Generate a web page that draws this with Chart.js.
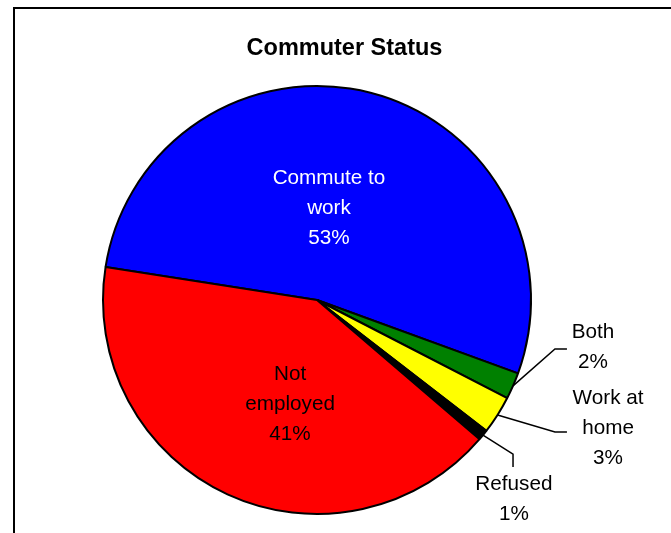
<!DOCTYPE html>
<html>
<head>
<meta charset="utf-8">
<script src="https://cdn.jsdelivr.net/npm/chart.js@4/dist/chart.umd.min.js"></script>
<style>
  html, body { margin: 0; padding: 0; background: #fff; }
  #wrap { position: relative; width: 671px; height: 533px; }
</style>
</head>
<body>
<div id="wrap"><canvas id="c" width="671" height="533"></canvas></div>
<script>
// ---- data ----
const chartTitle = "Commuter Status";
const categories = ["Commute to work", "Both", "Work at home", "Refused", "Not employed"];
const labelLines = [["Commute to", "work"], ["Both"], ["Work at", "home"], ["Refused"], ["Not", "employed"]];
const values = [53.1, 2.0, 2.9, 0.8, 41.2];

// ---- styles / layout (kept apart from data) ----
const sliceColors = ["#0000FF", "#008000", "#FFFF00", "#000000", "#FF0000"];
const textColors = ["#FFFFFF", "#000000", "#000000", "#000000", "#000000"];
// label centre (in units of radius, relative to pie centre), leader elbow & end (or null)
const labelLayout = [
  { lx: 0.056, ly: -0.43, leader: null },
  { lx: 1.29, ly: 0.22, leader: [[1.112, 0.229], [1.168, 0.229]] },
  { lx: 1.36, ly: 0.60, leader: [[1.112, 0.617], [1.168, 0.617]] },
  { lx: 0.92, ly: 0.93, leader: [[0.916, 0.72], [0.916, 0.78]] },
  { lx: -0.126, ly: 0.486, leader: null }
];
const FONT = '"Liberation Sans", Arial, sans-serif';
const LINE_H = 30;

const total = values.reduce((a, b) => a + b, 0);

const overlay = {
  id: 'overlay',
  afterDraw(chart) {
    const ctx = chart.ctx;
    ctx.save();
    // frame
    ctx.strokeStyle = '#000';
    ctx.lineWidth = 2;
    ctx.beginPath();
    ctx.moveTo(14, 533);
    ctx.lineTo(14, 8);
    ctx.lineTo(671, 8);
    ctx.stroke();
    // title
    ctx.fillStyle = '#000';
    ctx.font = 'bold 23.5px ' + FONT;
    ctx.textAlign = 'center';
    ctx.textBaseline = 'middle';
    ctx.fillText(chartTitle, 344.5, 49);

    const meta = chart.getDatasetMeta(0);
    meta.data.forEach((arc, i) => {
      const p = arc.getProps(['x', 'y', 'startAngle', 'endAngle', 'outerRadius'], true);
      const R = p.outerRadius;
      const L = labelLayout[i];
      // leader line
      if (L.leader) {
        const mid = (p.startAngle + p.endAngle) / 2;
        ctx.strokeStyle = '#000';
        ctx.lineWidth = 1.5;
        ctx.beginPath();
        ctx.moveTo(p.x + Math.cos(mid) * R, p.y + Math.sin(mid) * R);
        L.leader.forEach(pt => ctx.lineTo(p.x + pt[0] * R, p.y + pt[1] * R));
        ctx.stroke();
      }
      // label text
      const lines = labelLines[i].concat([Math.round(values[i] / total * 100) + '%']);
      const cx = p.x + L.lx * R;
      const cy = p.y + L.ly * R;
      ctx.fillStyle = textColors[i];
      ctx.font = '20.7px ' + FONT;
      ctx.textAlign = 'center';
      ctx.textBaseline = 'middle';
      lines.forEach((t, k) => {
        ctx.fillText(t, cx, cy + (k - (lines.length - 1) / 2) * LINE_H);
      });
    });
    ctx.restore();
  }
};

new Chart(document.getElementById('c'), {
  type: 'pie',
  data: {
    labels: categories,
    datasets: [{
      data: values,
      backgroundColor: sliceColors,
      borderColor: '#000',
      borderWidth: 2
    }]
  },
  options: {
    responsive: false,
    animation: false,
    rotation: 278.9,
    layout: { padding: { left: 102, top: 85, right: 139, bottom: 18 } },
    plugins: {
      legend: { display: false },
      title: { display: false },
      tooltip: { enabled: false }
    }
  },
  plugins: [overlay]
});
</script>
</body>
</html>
